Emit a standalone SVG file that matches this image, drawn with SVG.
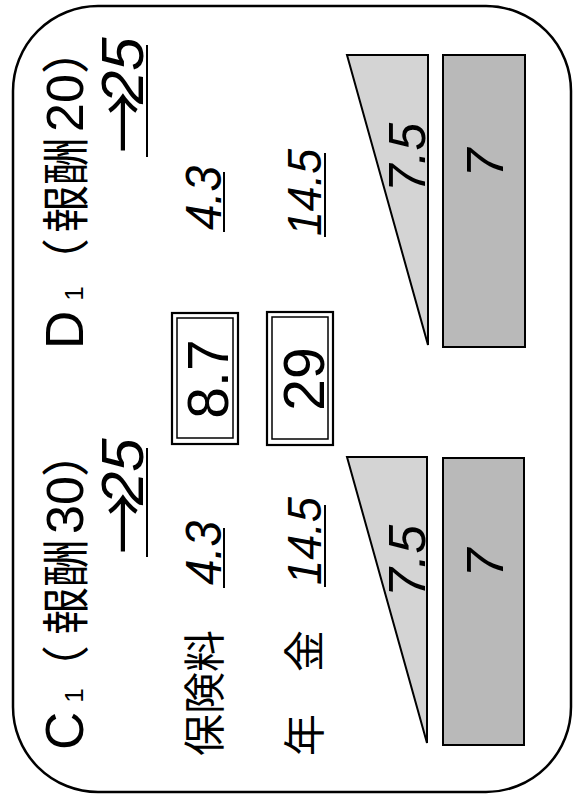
<svg xmlns="http://www.w3.org/2000/svg" width="573" height="797" viewBox="0 0 573 797">
<style>
.lat{font-family:"Liberation Sans",Arial,sans-serif;fill:#000}
.jp{font-family:"Liberation Sans","Noto Sans CJK JP",sans-serif;fill:#000}
.it{font-style:italic}
.arr{font-family:"Noto Sans CJK JP",sans-serif;font-style:normal}
.ul{stroke:#000;stroke-width:2}
.tri{fill:#d4d4d4;stroke:#000;stroke-width:2}
.bar{fill:#b9b9b9;stroke:#000;stroke-width:2}
.bo{fill:none;stroke:#000;stroke-width:2.2}
.bi{fill:none;stroke:#000;stroke-width:1.5}
</style>
<rect width="573" height="797" fill="#fff"/>
<rect id="frame" x="13" y="6" width="558" height="786" rx="85" fill="#fff" stroke="#000" stroke-width="2.5"/>

<g id="labels">
  <g transform="translate(0,797) rotate(-90)">
    <text class="jp" x="41" y="220" font-size="42">保険料</text>
    <text class="jp" x="41" y="320" font-size="42">年　金</text>
  </g>
</g>

<g id="C1">
  <polygon class="tri" points="347,457 427,457 427,743"/>
  <rect class="bar" x="443" y="458" width="81" height="287"/>
  <g transform="translate(0,797) rotate(-90)">
    <text class="lat" x="47" y="83" font-size="53">C<tspan font-size="26" dx="9">1</tspan></text>
    <text class="jp" y="83" font-size="48" text-anchor="middle"><tspan x="128">（</tspan><tspan x="210">報酬</tspan><tspan x="292" class="lat" font-size="52">30</tspan><tspan x="344">）</tspan></text>
    <text class="lat it" y="143" font-size="60"><tspan class="arr" x="243" dy="4" font-size="62">→</tspan><tspan x="292" dy="-4">25</tspan></text>
    <line class="ul" x1="240" y1="147" x2="349" y2="147"/>
    <text class="lat it" x="212" y="221" font-size="50" textLength="64" lengthAdjust="spacingAndGlyphs">4.3</text>
    <line class="ul" x1="209" y1="224" x2="269" y2="224"/>
    <text class="lat it" x="212" y="321" font-size="48" textLength="88" lengthAdjust="spacingAndGlyphs">14.5</text>
    <line class="ul" x1="210" y1="325" x2="292" y2="325"/>
    <text class="lat it" x="200" y="425" font-size="52" textLength="72" lengthAdjust="spacingAndGlyphs">7.5</text>
    <text class="lat it" x="234" y="503" font-size="52" text-anchor="middle">7</text>
  </g>
</g>

<g id="D1">
  <polygon class="tri" points="347,55 428,55 428,345"/>
  <rect class="bar" x="443" y="55" width="82" height="292"/>
  <g transform="translate(0,797) rotate(-90)">
    <text class="lat" x="448" y="83" font-size="53">D<tspan font-size="26" dx="10">1</tspan></text>
    <text class="jp" y="83" font-size="48" text-anchor="middle"><tspan x="535">（</tspan><tspan x="612">報酬</tspan><tspan x="694" class="lat" font-size="52">20</tspan><tspan x="747">）</tspan></text>
    <text class="lat it" y="143" font-size="60"><tspan class="arr" x="644" dy="4" font-size="62">→</tspan><tspan x="693" dy="-4">25</tspan></text>
    <line class="ul" x1="640" y1="147" x2="752" y2="147"/>
    <text class="lat it" x="567" y="221" font-size="50" textLength="64" lengthAdjust="spacingAndGlyphs">4.3</text>
    <line class="ul" x1="565" y1="224" x2="625" y2="224"/>
    <text class="lat it" x="561" y="321" font-size="48" textLength="87" lengthAdjust="spacingAndGlyphs">14.5</text>
    <line class="ul" x1="560" y1="325" x2="644" y2="325"/>
    <text class="lat it" x="605" y="425" font-size="52" textLength="69" lengthAdjust="spacingAndGlyphs">7.5</text>
    <text class="lat it" x="634" y="503" font-size="52" text-anchor="middle">7</text>
  </g>
</g>

<g id="sum-premium">
  <rect class="bo" x="172" y="313" width="66" height="131"/>
  <rect class="bi" x="177" y="318" width="56" height="120"/>
  <g transform="translate(0,797) rotate(-90)">
    <text class="lat" x="418" y="228" font-size="57" text-anchor="middle">8.7</text>
  </g>
</g>

<g id="sum-pension">
  <rect class="bo" x="267" y="312" width="66" height="133"/>
  <rect class="bi" x="272" y="317" width="56" height="122"/>
  <g transform="translate(0,797) rotate(-90)">
    <text class="lat" x="418" y="324" font-size="57" text-anchor="middle">29</text>
  </g>
</g>
</svg>
